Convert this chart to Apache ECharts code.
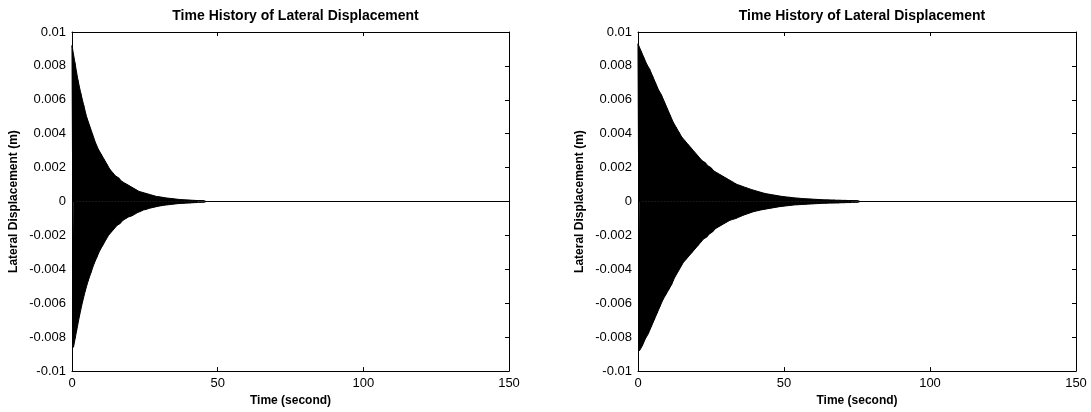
<!DOCTYPE html>
<html><head><meta charset="utf-8">
<script src="https://cdn.jsdelivr.net/npm/echarts@6/dist/echarts.min.js"></script>
<style>html,body{margin:0;padding:0;background:#fff;}#c{width:1091px;height:412px;}</style>
</head><body><div id="c"></div>
<script>
// Envelope peaks: upper peak at t = i s, lower peak at t = i + 0.5 s
const leftUpper = [0.0092,0.0082,0.0072,0.0064,0.0057,0.0050,0.0045,0.0040,0.0035,0.0031,0.0028,0.0025,0.0022,0.0019,0.0017,0.0015,0.0014,0.0012,0.0011,0.0010,0.0009,0.0008,0.0007,0.0006,0.00055,0.0005,0.00045,0.0004,0.00035,0.0003,0.00028,0.00025,0.00022,0.0002,0.00018,0.00016,0.00014,0.00012,0.00011,0.0001,0.00009,0.00008,0.00007,0.00006,0.00006,0.00005];
const leftLower = [-0.0086,-0.0077,-0.0068,-0.0060,-0.0053,-0.0047,-0.0042,-0.0037,-0.0033,-0.0029,-0.0026,-0.0023,-0.0020,-0.0018,-0.0016,-0.0014,-0.0013,-0.0011,-0.0010,-0.0009,-0.00085,-0.00075,-0.00065,-0.00058,-0.0005,-0.00046,-0.0004,-0.00036,-0.00032,-0.00028,-0.00025,-0.00022,-0.0002,-0.00018,-0.00016,-0.00014,-0.00012,-0.00011,-0.0001,-0.00009,-0.00008,-0.00007,-0.00006,-0.00005,-0.00005,-0.00004];
const rightUpper = [0.0093,0.0089,0.0085,0.0081,0.0078,0.0074,0.0070,0.0066,0.0063,0.0059,0.0055,0.0051,0.0047,0.0044,0.0041,0.0038,0.0036,0.0034,0.0032,0.0030,0.0028,0.0026,0.0024,0.0023,0.0021,0.0020,0.0018,0.0017,0.0016,0.0015,0.0014,0.0013,0.0012,0.0011,0.0010,0.00095,0.00088,0.00082,0.00076,0.0007,0.00065,0.0006,0.00055,0.0005,0.00046,0.00043,0.0004,0.00037,0.00034,0.00031,0.00029,0.00027,0.00025,0.00023,0.00021,0.0002,0.00018,0.00017,0.00016,0.00015,0.00014,0.00013,0.00012,0.00011,0.0001,0.0001,0.00009,0.00009,0.00008,0.00008,0.00007,0.00007,0.00006,0.00006,0.00005,0.00005];
const rightLower = [-0.0088,-0.0085,-0.0081,-0.0078,-0.0074,-0.0070,-0.0066,-0.0062,-0.0058,-0.0055,-0.0052,-0.0049,-0.0045,-0.0042,-0.0039,-0.0036,-0.0034,-0.0032,-0.0030,-0.0028,-0.0026,-0.0024,-0.0022,-0.0021,-0.0019,-0.0018,-0.0016,-0.0015,-0.0014,-0.0013,-0.0012,-0.0011,-0.00105,-0.001,-0.00092,-0.00085,-0.00078,-0.00072,-0.00066,-0.0006,-0.00056,-0.00052,-0.00048,-0.00045,-0.00042,-0.00039,-0.00036,-0.00033,-0.0003,-0.00028,-0.00026,-0.00024,-0.00022,-0.0002,-0.00019,-0.00018,-0.00017,-0.00016,-0.00015,-0.00014,-0.00013,-0.00012,-0.00011,-0.0001,-0.0001,-0.00009,-0.00009,-0.00008,-0.00008,-0.00007,-0.00007,-0.00006,-0.00006,-0.00005,-0.00005,-0.00004];
const endTime = 150;
const endValue = 0;
const titleText = 'Time History of Lateral Displacement';
const xName = 'Time (second)';
const yName = 'Lateral Displacement (m)';

function zig(up, lo) {
  const d = [];
  const n = Math.min(up.length, lo.length);
  for (let i = 0; i < n; i++) { d.push([i, up[i]]); d.push([i + 0.5, lo[i]]); }
  d.push([n, endValue]);
  d.push([endTime, endValue]);
  return d;
}
function env(arr, offset) {
  const d = arr.map((v, i) => [i + offset, v]);
  d.push([arr.length, endValue]);
  return d;
}

const font = 'Liberation Sans, Arial, sans-serif';
const grids = [
  {left: 72, top: 32, width: 437, height: 342},
  {left: 638, top: 32, width: 438, height: 342}
];
const xAxes = [], yAxes = [], series = [], titles = [];
const sets = [[leftUpper, leftLower], [rightUpper, rightLower]];
grids.forEach((g, k) => {
  const lineStyle = {color: '#000', width: 1};
  const tick = {inside: true, length: 4, lineStyle: {color: '#000'}};
  xAxes.push({gridIndex: k, type: 'value', min: 0, max: 150, interval: 50, position: 'bottom',
    axisLine: {show: true, onZero: false, lineStyle}, axisTick: tick, splitLine: {show: false},
    axisLabel: {color: '#000', fontFamily: font, fontSize: 13, margin: 6},
    name: xName, nameLocation: 'middle', nameGap: 21,
    nameTextStyle: {color: '#000', fontFamily: font, fontSize: 12, fontWeight: 'bold'}});
  xAxes.push({gridIndex: k, type: 'value', min: 0, max: 150, interval: 50, position: 'top',
    axisLine: {show: true, onZero: false, lineStyle}, axisTick: tick, splitLine: {show: false},
    axisLabel: {show: false}});
  yAxes.push({gridIndex: k, type: 'value', min: -0.01, max: 0.01, interval: 0.002, position: 'left',
    axisLine: {show: true, onZero: false, lineStyle}, axisTick: tick, splitLine: {show: false},
    axisLabel: {color: '#000', fontFamily: font, fontSize: 13, margin: 6,
      formatter: v => String(+v.toFixed(3))},
    name: yName, nameLocation: 'middle', nameGap: 52,
    nameTextStyle: {color: '#000', fontFamily: font, fontSize: 12, fontWeight: 'bold'}});
  yAxes.push({gridIndex: k, type: 'value', min: -0.01, max: 0.01, interval: 0.002, position: 'right',
    axisLine: {show: true, onZero: false, lineStyle}, axisTick: tick, splitLine: {show: false},
    axisLabel: {show: false}});
  const [up, lo] = sets[k];
  const common = {type: 'line', xAxisIndex: 2 * k, yAxisIndex: 2 * k, showSymbol: false, symbol: 'none',
    sampling: null, animation: false, silent: true};
  series.push(Object.assign({}, common, {data: env(up, 0), lineStyle: {color: '#000', width: 1},
    areaStyle: {color: '#000', opacity: 1, origin: 0}}));
  series.push(Object.assign({}, common, {data: env(lo, 0.5), lineStyle: {color: '#000', width: 1},
    areaStyle: {color: '#000', opacity: 1, origin: 0}}));
  series.push(Object.assign({}, common, {data: zig(up, lo), lineStyle: {color: '#000', width: 1.1}}));
  titles.push({text: titleText, left: g.left + g.width / 2, top: 4, textAlign: 'center',
    textStyle: {color: '#000', fontFamily: font, fontSize: 14, fontWeight: 'bold'}});
});

const chart = echarts.init(document.getElementById('c'), null, {renderer: 'canvas'});
chart.setOption({
  animation: false,
  backgroundColor: '#fff',
  title: titles,
  grid: grids,
  xAxis: xAxes,
  yAxis: yAxes,
  series: series
});
</script></body></html>
